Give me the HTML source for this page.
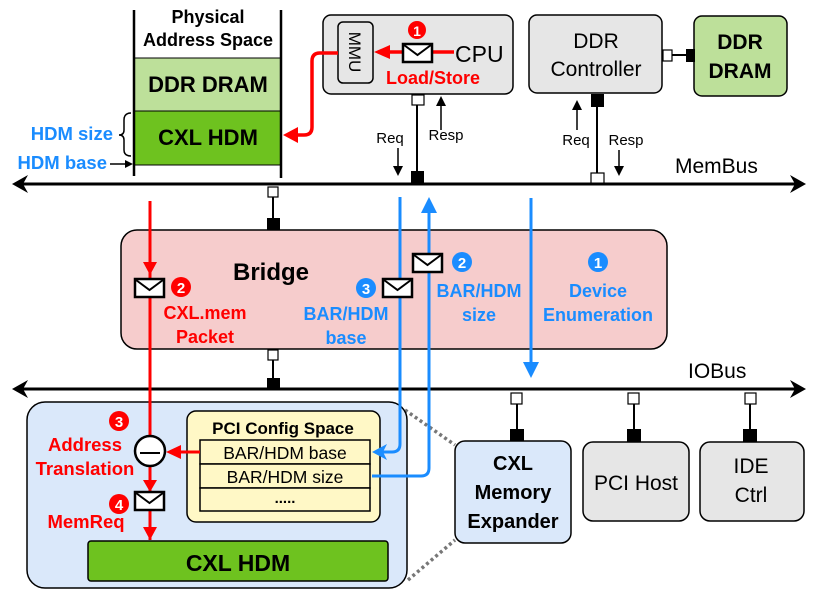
<!DOCTYPE html>
<html><head><meta charset="utf-8"><style>
html,body{margin:0;padding:0;background:#fff;}
svg{display:block;font-family:"Liberation Sans",Arial,sans-serif;}
.b{font-weight:bold;}
</style></head><body>
<svg width="814" height="603" viewBox="0 0 814 603" xmlns="http://www.w3.org/2000/svg">
<defs>
<g id="env"><rect x="0" y="0" width="29" height="18" fill="#fff" stroke="#000" stroke-width="2.5"/><polyline points="1,1 14.5,11 28,1" fill="none" stroke="#000" stroke-width="2"/></g>
</defs>

<rect x="134" y="58" width="147" height="53" fill="#bde09a" stroke="#000" stroke-width="1"/>
<rect x="134" y="111" width="147" height="54" fill="#6ec21f" stroke="#000" stroke-width="1"/>
<line x1="134" y1="10" x2="134" y2="176" stroke="#000" stroke-width="2.5"/>
<line x1="281" y1="10" x2="281" y2="178" stroke="#000" stroke-width="2.5"/>
<text x="208" y="23" text-anchor="middle" font-size="18" class="b">Physical</text>
<text x="208" y="46" text-anchor="middle" font-size="18" class="b">Address Space</text>
<text x="208" y="92" text-anchor="middle" font-size="22" class="b">DDR DRAM</text>
<text x="208" y="145" text-anchor="middle" font-size="22" class="b">CXL HDM</text>
<path d="M131,113 Q124,113 124,120 L124,130 Q124,135 119,135 Q124,135 124,140 L124,150 Q124,156 131,156" fill="none" stroke="#000" stroke-width="1.5"/>
<text x="113" y="140" text-anchor="end" font-size="18.5" fill="#1a8cff" class="b">HDM size</text>
<text x="107" y="169" text-anchor="end" font-size="18.5" fill="#1a8cff" class="b">HDM base</text>
<line x1="110" y1="164" x2="128" y2="164" stroke="#000" stroke-width="1.5"/>
<polygon points="133,164 125,160 125,168" fill="#000"/>

<rect x="323" y="15" width="190" height="79" rx="8" fill="#e6e6e6" stroke="#000" stroke-width="1.5"/>
<rect x="338" y="22" width="35" height="61" rx="5" fill="#e6e6e6" stroke="#000" stroke-width="1.5"/>
<text transform="translate(349,52) rotate(90)" text-anchor="middle" font-size="17">MMU</text>
<line x1="432" y1="52" x2="454" y2="52" stroke="#f00" stroke-width="3.5"/>
<line x1="403" y1="52" x2="385" y2="52" stroke="#f00" stroke-width="3.5"/>
<polygon points="374,52 390,45 390,59" fill="#f00"/>
<use href="#env" x="403" y="44"/>
<text x="455" y="62" font-size="23">CPU</text>
<circle cx="417" cy="30" r="9" fill="#f00"/>
<text x="417" y="36" text-anchor="middle" font-size="14" fill="#fff" class="b">1</text>
<text x="433" y="84" text-anchor="middle" font-size="18" fill="#f00" class="b">Load/Store</text>
<path d="M338,53 L320,53 Q312,53 312,61 L312,127 Q312,135 304,135 L292,135" fill="none" stroke="#f00" stroke-width="3.5"/>
<polygon points="283,135 298,127 298,143" fill="#f00"/>

<line x1="417" y1="100" x2="417" y2="176" stroke="#000" stroke-width="2"/>
<rect x="412" y="95" width="12" height="10" fill="#fff" stroke="#000" stroke-width="1.2"/>
<rect x="411" y="171" width="13" height="12" fill="#000"/>
<line x1="398" y1="148" x2="398" y2="168" stroke="#000" stroke-width="1.5"/>
<polygon points="398,176 393,166 403,166" fill="#000"/>
<text x="390" y="143" text-anchor="middle" font-size="15">Req</text>
<line x1="441" y1="130" x2="441" y2="104" stroke="#000" stroke-width="1.5"/>
<polygon points="441,96 436,106 446,106" fill="#000"/>
<text x="446" y="140" text-anchor="middle" font-size="15">Resp</text>

<rect x="529" y="15" width="133" height="78" rx="8" fill="#e6e6e6" stroke="#000" stroke-width="1.5"/>
<text x="596" y="48" text-anchor="middle" font-size="21">DDR</text>
<text x="596" y="76" text-anchor="middle" font-size="21">Controller</text>
<rect x="694" y="16" width="93" height="80" rx="8" fill="#bde09a" stroke="#000" stroke-width="1.5"/>
<text x="740" y="49" text-anchor="middle" font-size="21" class="b">DDR</text>
<text x="740" y="78" text-anchor="middle" font-size="21" class="b">DRAM</text>
<line x1="670" y1="55" x2="688" y2="55" stroke="#000" stroke-width="2"/>
<rect x="663" y="50" width="9" height="11" fill="#fff" stroke="#000" stroke-width="1.2"/>
<rect x="686" y="49" width="9" height="13" fill="#000"/>
<line x1="597" y1="100" x2="597" y2="178" stroke="#000" stroke-width="2"/>
<rect x="591" y="94" width="13" height="13" fill="#000"/>
<rect x="591" y="173" width="13" height="11" fill="#fff" stroke="#000" stroke-width="1.2"/>
<line x1="577" y1="130" x2="577" y2="108" stroke="#000" stroke-width="1.5"/>
<polygon points="577,100 572,110 582,110" fill="#000"/>
<text x="576" y="145" text-anchor="middle" font-size="15">Req</text>
<line x1="619" y1="150" x2="619" y2="168" stroke="#000" stroke-width="1.5"/>
<polygon points="619,176 614,166 624,166" fill="#000"/>
<text x="626" y="145" text-anchor="middle" font-size="15">Resp</text>

<line x1="20" y1="184" x2="798" y2="184" stroke="#000" stroke-width="3"/>
<polygon points="12,184 28,175 23,184 28,193" fill="#000"/>
<polygon points="806,184 790,175 795,184 790,193" fill="#000"/>
<text x="675" y="173" font-size="21">MemBus</text>

<line x1="273" y1="190" x2="273" y2="226" stroke="#000" stroke-width="2"/>
<rect x="268" y="187" width="10" height="10" fill="#fff" stroke="#000" stroke-width="1.2"/>
<rect x="267" y="218" width="13" height="12" fill="#000"/>
<rect x="121" y="230" width="546" height="119" rx="16" fill="#f6cccc" stroke="#000" stroke-width="1.5"/>
<text x="271" y="280" text-anchor="middle" font-size="24" class="b">Bridge</text>
<line x1="273" y1="349" x2="273" y2="385" stroke="#000" stroke-width="2"/>
<rect x="268" y="350" width="10" height="10" fill="#fff" stroke="#000" stroke-width="1.2"/>
<rect x="267" y="378" width="13" height="12" fill="#000"/>

<line x1="20" y1="389" x2="798" y2="389" stroke="#000" stroke-width="3"/>
<polygon points="12,389 28,380 23,389 28,398" fill="#000"/>
<polygon points="806,389 790,380 795,389 790,398" fill="#000"/>
<text x="688" y="378" font-size="21">IOBus</text>

<g stroke="#000">
<line x1="517" y1="395" x2="517" y2="435" stroke-width="2"/>
<line x1="634" y1="395" x2="634" y2="435" stroke-width="2"/>
<line x1="750" y1="395" x2="750" y2="435" stroke-width="2"/>
</g>
<rect x="511" y="393" width="11" height="11" fill="#fff" stroke="#000" stroke-width="1.2"/>
<rect x="628" y="393" width="11" height="11" fill="#fff" stroke="#000" stroke-width="1.2"/>
<rect x="745" y="393" width="11" height="11" fill="#fff" stroke="#000" stroke-width="1.2"/>
<rect x="510" y="429" width="14" height="13" fill="#000"/>
<rect x="627" y="429" width="14" height="13" fill="#000"/>
<rect x="743" y="429" width="14" height="13" fill="#000"/>
<rect x="455" y="441" width="116" height="102" rx="10" fill="#dae8fa" stroke="#000" stroke-width="1.5"/>
<text x="513" y="470" text-anchor="middle" font-size="20" class="b">CXL</text>
<text x="513" y="499" text-anchor="middle" font-size="20" class="b">Memory</text>
<text x="513" y="528" text-anchor="middle" font-size="20" class="b">Expander</text>
<rect x="583" y="442" width="106" height="79" rx="10" fill="#e6e6e6" stroke="#000" stroke-width="1.5"/>
<text x="636" y="490" text-anchor="middle" font-size="21">PCI Host</text>
<rect x="700" y="442" width="104" height="79" rx="10" fill="#e6e6e6" stroke="#000" stroke-width="1.5"/>
<text x="751" y="473" text-anchor="middle" font-size="21">IDE</text>
<text x="751" y="502" text-anchor="middle" font-size="21">Ctrl</text>

<line x1="405" y1="410" x2="455" y2="445" stroke="#777" stroke-width="3.5" stroke-dasharray="3,3"/>
<line x1="408" y1="580" x2="455" y2="540" stroke="#777" stroke-width="3.5" stroke-dasharray="3,3"/>

<rect x="27" y="402" width="380" height="186" rx="18" fill="#dae8fa" stroke="#000" stroke-width="1.5"/>
<rect x="187" y="411" width="193" height="111" rx="9" fill="#fff8c6" stroke="#000" stroke-width="1.5"/>
<text x="283" y="434" text-anchor="middle" font-size="17" class="b">PCI Config Space</text>
<rect x="200" y="440" width="170" height="24" fill="#fff8c6" stroke="#000" stroke-width="1.5"/>
<rect x="200" y="464" width="170" height="24" fill="#fff8c6" stroke="#000" stroke-width="1.5"/>
<rect x="200" y="488" width="170" height="23" fill="#fff8c6" stroke="#000" stroke-width="1.5"/>
<text x="285" y="459" text-anchor="middle" font-size="17.5">BAR/HDM base</text>
<text x="285" y="483" text-anchor="middle" font-size="17.5">BAR/HDM size</text>
<text x="285" y="503" text-anchor="middle" font-size="15" class="b">.....</text>
<rect x="88" y="541" width="300" height="40" rx="3" fill="#6ec21f" stroke="#000" stroke-width="1.5"/>
<text x="238" y="571" text-anchor="middle" font-size="23" class="b">CXL HDM</text>

<line x1="150" y1="201" x2="150" y2="436" stroke="#f00" stroke-width="3"/>
<polygon points="150,275 143,262 157,262" fill="#f00"/>
<use href="#env" x="135" y="279"/>
<circle cx="181" cy="287" r="10" fill="#f00"/>
<text x="181" y="293" text-anchor="middle" font-size="15" fill="#fff" class="b">2</text>
<text x="205" y="319" text-anchor="middle" font-size="18" fill="#f00" class="b">CXL.mem</text>
<text x="205" y="343" text-anchor="middle" font-size="18" fill="#f00" class="b">Packet</text>
<line x1="200" y1="452" x2="175" y2="452" stroke="#f00" stroke-width="3"/>
<polygon points="166,452 181,445 181,459" fill="#f00"/>
<line x1="150" y1="466" x2="150" y2="540" stroke="#f00" stroke-width="3"/>
<polygon points="150,492 143,480 157,480" fill="#f00"/>
<polygon points="150,540 143,527 157,527" fill="#f00"/>
<circle cx="150" cy="451" r="15" fill="#fff" stroke="#000" stroke-width="2.5"/>
<line x1="140" y1="453" x2="160" y2="453" stroke="#000" stroke-width="2"/>
<use href="#env" x="135" y="492"/>
<circle cx="119" cy="421" r="10" fill="#f00"/>
<text x="119" y="427" text-anchor="middle" font-size="15" fill="#fff" class="b">3</text>
<text x="85" y="451" text-anchor="middle" font-size="18.5" fill="#f00" class="b">Address</text>
<text x="85" y="475" text-anchor="middle" font-size="18.5" fill="#f00" class="b">Translation</text>
<circle cx="119" cy="504" r="10" fill="#f00"/>
<text x="119" y="510" text-anchor="middle" font-size="15" fill="#fff" class="b">4</text>
<text x="86" y="528" text-anchor="middle" font-size="18.5" fill="#f00" class="b">MemReq</text>

<path d="M400,197 L400,444 Q400,452 392,452 L380,452" fill="none" stroke="#1a8cff" stroke-width="3"/>
<polygon points="372,452 387,444 383,452 387,460" fill="#1a8cff"/>
<path d="M372,476 L421,476 Q429,476 429,468 L429,206" fill="none" stroke="#1a8cff" stroke-width="3"/>
<polygon points="429,197 421,213 437,213" fill="#1a8cff"/>
<line x1="531" y1="198" x2="531" y2="368" stroke="#1a8cff" stroke-width="3"/>
<polygon points="531,378 523,362 539,362" fill="#1a8cff"/>
<use href="#env" x="413" y="254"/>
<use href="#env" x="383" y="279"/>
<circle cx="462" cy="262" r="10" fill="#1a8cff"/>
<text x="462" y="268" text-anchor="middle" font-size="15" fill="#fff" class="b">2</text>
<circle cx="366" cy="288" r="10" fill="#1a8cff"/>
<text x="366" y="294" text-anchor="middle" font-size="15" fill="#fff" class="b">3</text>
<circle cx="598" cy="262" r="10" fill="#1a8cff"/>
<text x="598" y="268" text-anchor="middle" font-size="15" fill="#fff" class="b">1</text>
<text x="479" y="297" text-anchor="middle" font-size="18" fill="#1a8cff" class="b">BAR/HDM</text>
<text x="479" y="321" text-anchor="middle" font-size="18" fill="#1a8cff" class="b">size</text>
<text x="346" y="320" text-anchor="middle" font-size="18" fill="#1a8cff" class="b">BAR/HDM</text>
<text x="346" y="344" text-anchor="middle" font-size="18" fill="#1a8cff" class="b">base</text>
<text x="598" y="297" text-anchor="middle" font-size="18" fill="#1a8cff" class="b">Device</text>
<text x="598" y="321" text-anchor="middle" font-size="18" fill="#1a8cff" class="b">Enumeration</text>
</svg>
</body></html>
